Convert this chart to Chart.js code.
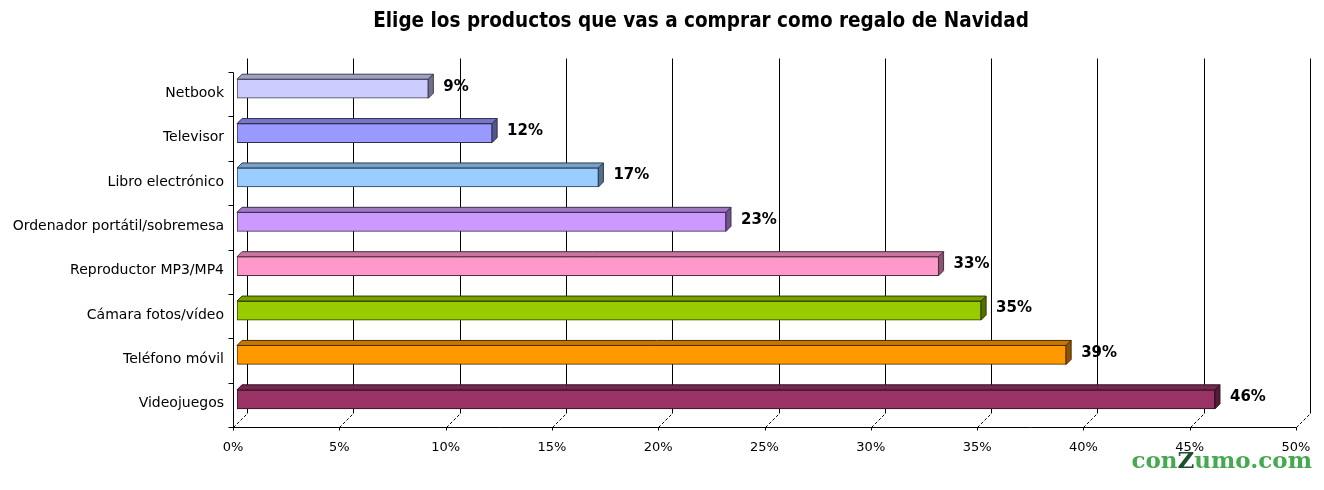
<!DOCTYPE html>
<html>
<head>
<meta charset="utf-8">
<script src="https://cdn.jsdelivr.net/npm/chart.js@4/dist/chart.umd.min.js"></script>
<style>
  body { margin: 0; background: #fff; }
  #wrap { position: relative; width: 1324px; height: 490px; }
  #title {
    position: absolute; left: 701px; top: 8px; transform: translateX(-50%);
    white-space: nowrap; font: bold 20.5px "DejaVu Sans Condensed", "DejaVu Sans", sans-serif; color: #000;
  }
  #logo {
    position: absolute; right: 12px; top: 446px; white-space: nowrap;
    font: bold 23px "DejaVu Serif", serif; color: #46a851;
  }
  #logo span { color: #1c4f2c; }
</style>
</head>
<body>
<div id="wrap">
  <canvas id="regalosChart" width="1324" height="490"></canvas>
  <div id="title">Elige los productos que vas a comprar como regalo de Navidad</div>
  <div id="logo">con<span>Z</span>umo.com</div>
</div>
<script>
// values
const categories = [
  "Netbook", "Televisor", "Libro electrónico", "Ordenador portátil/sobremesa",
  "Reproductor MP3/MP4", "Cámara fotos/vídeo", "Teléfono móvil", "Videojuegos",
];
const values = [9, 12, 17, 23, 33, 35, 39, 46];
const barColors = ["#CCCCFF", "#9999FF", "#99CCFF", "#CC99FF", "#FF99CC", "#99CC00", "#FF9900", "#993366"];
const xTickValues = [0, 5, 10, 15, 20, 25, 30, 35, 40, 45, 50];

// 3d look of the old spreadsheet chart
const DEPTH = 14;      // back wall offset (x right, y up)
const BAR_DEPTH = 5;   // bar top/side face
const FRONT_DX = -4;   // front frame vs. bar front face
const FRONT_DY = 5.5;

function shade(hex, f) {
  const n = parseInt(hex.slice(1), 16);
  const r = Math.round(((n >> 16) & 255) * f);
  const g = Math.round(((n >> 8) & 255) * f);
  const b = Math.round((n & 255) * f);
  return `rgb(${r},${g},${b})`;
}

const wallPlugin = {
  id: "wall",
  beforeDatasetsDraw(chart) {
    const { ctx, chartArea, scales } = chart;
    const xs = scales.x;
    const frontY = Math.round(chartArea.bottom + FRONT_DY) + 0.5;
    const frontTop = Math.round(chartArea.top + FRONT_DY) + 0.5;
    ctx.save();
    ctx.strokeStyle = "#000";
    ctx.lineWidth = 1;
    xTickValues.forEach(v => {
      const xf = Math.round(xs.getPixelForValue(v) + FRONT_DX) + 0.5;
      const xb = xf + DEPTH;
      ctx.beginPath();
      ctx.moveTo(xb, frontTop - DEPTH);
      ctx.lineTo(xb, frontY - DEPTH);
      ctx.stroke();
      ctx.setLineDash([3, 2]);
      ctx.beginPath();
      ctx.moveTo(xf, frontY);
      ctx.lineTo(xb, frontY - DEPTH);
      ctx.stroke();
      ctx.setLineDash([]);
    });
    // front axes
    const x0 = Math.round(xs.getPixelForValue(0) + FRONT_DX) + 0.5;
    const x1 = Math.round(xs.getPixelForValue(50) + FRONT_DX) + 0.5;
    ctx.beginPath();
    ctx.moveTo(x0, frontTop);
    ctx.lineTo(x0, frontY);
    ctx.lineTo(x1, frontY);
    ctx.stroke();
    const step = (chartArea.bottom - chartArea.top) / categories.length;
    for (let i = 0; i <= categories.length; i++) {
      const y = Math.round(chartArea.top + FRONT_DY + i * step) + 0.5;
      ctx.beginPath();
      ctx.moveTo(x0 - 5, y);
      ctx.lineTo(x0, y);
      ctx.stroke();
    }
    xTickValues.forEach(v => {
      const xf = Math.round(xs.getPixelForValue(v) + FRONT_DX) + 0.5;
      ctx.beginPath();
      ctx.moveTo(xf, frontY);
      ctx.lineTo(xf, frontY + 3);
      ctx.stroke();
    });
    ctx.restore();
  },
  afterDatasetsDraw(chart) {
    const { ctx } = chart;
    const meta = chart.getDatasetMeta(0);
    ctx.save();
    meta.data.forEach((bar, i) => {
      const top = bar.y - bar.height / 2;
      const bottom = bar.y + bar.height / 2;
      const c = barColors[i];
      ctx.lineWidth = 1;
      ctx.strokeStyle = shade(c, 0.3);
      // top face
      ctx.fillStyle = shade(c, 0.78);
      ctx.beginPath();
      ctx.moveTo(bar.base, top);
      ctx.lineTo(bar.base + BAR_DEPTH, top - BAR_DEPTH);
      ctx.lineTo(bar.x + BAR_DEPTH, top - BAR_DEPTH);
      ctx.lineTo(bar.x, top);
      ctx.closePath();
      ctx.fill();
      ctx.stroke();
      // side face
      ctx.fillStyle = shade(c, 0.55);
      ctx.beginPath();
      ctx.moveTo(bar.x, top);
      ctx.lineTo(bar.x + BAR_DEPTH, top - BAR_DEPTH);
      ctx.lineTo(bar.x + BAR_DEPTH, bottom - BAR_DEPTH);
      ctx.lineTo(bar.x, bottom);
      ctx.closePath();
      ctx.fill();
      ctx.stroke();
      // value label
      ctx.fillStyle = "#000";
      ctx.font = "bold 15px 'DejaVu Sans', sans-serif";
      ctx.textAlign = "left";
      ctx.textBaseline = "middle";
      ctx.fillText(values[i] + "%", bar.x + BAR_DEPTH + 10, bar.y - 2);
    });
    ctx.restore();
  },
};

new Chart(document.getElementById("regalosChart"), {
  type: "bar",
  data: {
    labels: categories,
    datasets: [{
      data: values,
      backgroundColor: barColors,
      borderColor: barColors.map(c => shade(c, 0.3)),
      borderWidth: 1,
      borderSkipped: false,
      barThickness: 19,
    }],
  },
  options: {
    indexAxis: "y",
    responsive: false,
    animation: false,
    devicePixelRatio: 1,
    layout: { padding: { top: 66.5, right: 24, bottom: 0, left: 0 } },
    plugins: { legend: { display: false }, tooltip: { enabled: false }, title: { display: false } },
    scales: {
      x: {
        min: 0, max: 50,
        afterBuildTicks: s => { s.ticks = xTickValues.map(v => ({ value: v })); },
        afterFit: s => { s.height = 68.5; s.paddingLeft = 0; s.paddingRight = 0; },
        grid: { display: false, drawTicks: false },
        border: { display: false },
        ticks: {
          callback: v => v + "%",
          color: "#000",
          font: { family: "'DejaVu Sans', sans-serif", size: 13 },
          padding: 18,
          labelOffset: FRONT_DX,
          maxRotation: 0,
        },
      },
      y: {
        afterFit: s => { s.width = 237; },
        grid: { display: false, drawTicks: false },
        border: { display: false },
        ticks: {
          color: "#000",
          font: { family: "'DejaVu Sans', sans-serif", size: 14 },
          padding: 13,
          labelOffset: 4.5,
        },
      },
    },
  },
  plugins: [wallPlugin],
});
</script>
</body>
</html>
